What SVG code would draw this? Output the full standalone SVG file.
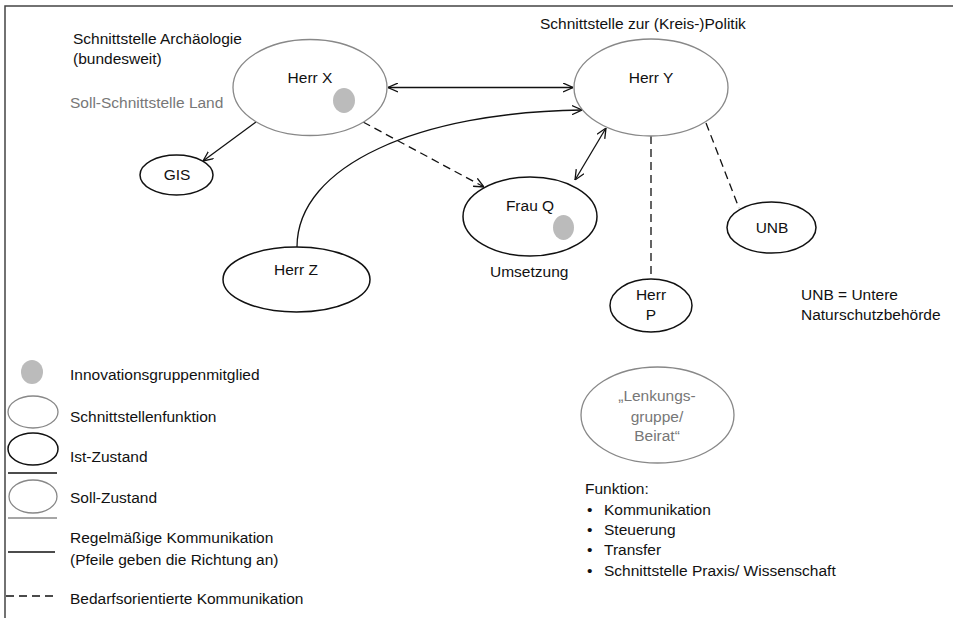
<svg xmlns="http://www.w3.org/2000/svg" width="953" height="618" viewBox="0 0 953 618">
<defs>
<style>
text{font-family:"Liberation Sans",Arial,sans-serif;font-size:15.5px;fill:#111}
.g{fill:#777}
.c{text-anchor:middle}
.soll{fill:#fff;stroke:#888;stroke-width:1.3}
.ist{fill:#fff;stroke:#111;stroke-width:1.5}
.dot{fill:#bbb;stroke:none}
.ln{fill:none;stroke:#111;stroke-width:1.3}
.dash{stroke-dasharray:8,5}
</style>
<marker id="ah" viewBox="0 0 10 10" refX="10" refY="5" markerWidth="10" markerHeight="10" markerUnits="userSpaceOnUse" orient="auto-start-reverse">
<path d="M0,0.5 L10,5 L0,9.5" fill="none" stroke="#111" stroke-width="1.3"/>
</marker>
</defs>
<rect x="0" y="0" width="953" height="618" fill="#fff"/>
<rect x="5" y="6" width="960" height="630" fill="none" stroke="#444" stroke-width="1.5"/>

<g id="connectors">
<line class="ln" x1="388" y1="87.5" x2="573" y2="87.5" marker-start="url(#ah)" marker-end="url(#ah)"/>
<line class="ln" x1="256" y1="122" x2="203" y2="161" marker-end="url(#ah)"/>
<line class="ln dash" x1="363" y1="122" x2="484" y2="187" marker-end="url(#ah)"/>
<path class="ln" d="M297,247 C297,165 420,112 582,110" marker-end="url(#ah)"/>
<line class="ln" x1="575" y1="180" x2="606" y2="128" marker-start="url(#ah)" marker-end="url(#ah)"/>
<line class="ln dash" x1="651" y1="136" x2="651" y2="279"/>
<line class="ln dash" x1="706" y1="123" x2="739" y2="208"/>
</g>

<g id="herr-x">
<ellipse class="soll" cx="310" cy="87.5" rx="77" ry="48"/>
<ellipse class="dot" cx="344" cy="100.5" rx="11" ry="12.5"/>
<text class="c" x="310" y="83">Herr X</text>
</g>
<g id="label-x">
<text x="73" y="44">Schnittstelle Archäologie</text>
<text x="73" y="64">(bundesweit)</text>
<text class="g" x="70" y="108">Soll-Schnittstelle Land</text>
</g>

<g id="herr-y">
<ellipse class="soll" cx="651" cy="87.5" rx="77" ry="48.5"/>
<text class="c" x="651" y="83">Herr Y</text>
</g>
<g id="label-y">
<text x="540" y="29">Schnittstelle zur (Kreis-)Politik</text>
</g>

<g id="gis">
<ellipse class="ist" cx="176.5" cy="175" rx="36.5" ry="20"/>
<text class="c" x="177" y="180">GIS</text>
</g>

<g id="herr-z">
<ellipse class="ist" cx="296.5" cy="279.5" rx="73.5" ry="32.5"/>
<text class="c" x="296" y="275">Herr Z</text>
</g>

<g id="frau-q">
<ellipse class="ist" cx="530" cy="216.5" rx="67" ry="39.5"/>
<ellipse class="dot" cx="563.5" cy="227.5" rx="10.5" ry="12.5"/>
<text class="c" x="530" y="211">Frau Q</text>
<text x="490" y="277">Umsetzung</text>
</g>

<g id="unb">
<ellipse class="ist" cx="771.5" cy="227.5" rx="44.5" ry="25.5"/>
<text class="c" x="772" y="233">UNB</text>
</g>

<g id="herr-p">
<ellipse class="ist" cx="651" cy="305.5" rx="41" ry="26.5"/>
<text class="c" x="651" y="300">Herr</text>
<text class="c" x="651" y="320">P</text>
</g>

<g id="unb-note">
<text x="801" y="300">UNB = Untere</text>
<text x="801" y="320">Naturschutzbehörde</text>
</g>

<g id="lenkungsgruppe">
<ellipse class="soll" cx="657.5" cy="415" rx="76.5" ry="48"/>
<text class="c g" x="657" y="401">„Lenkungs-</text>
<text class="c g" x="657" y="422">gruppe/</text>
<text class="c g" x="657" y="441">Beirat“</text>
</g>

<g id="funktion">
<text x="585" y="494">Funktion:</text>
<text x="587" y="515">•</text><text x="604" y="515">Kommunikation</text>
<text x="587" y="535">•</text><text x="604" y="535">Steuerung</text>
<text x="587" y="555">•</text><text x="604" y="555">Transfer</text>
<text x="587" y="576">•</text><text x="604" y="576">Schnittstelle Praxis/ Wissenschaft</text>
</g>

<g id="legend">
<ellipse class="dot" cx="32" cy="372" rx="11" ry="12"/>
<text x="70" y="380">Innovationsgruppenmitglied</text>
<ellipse class="soll" cx="33" cy="412" rx="25" ry="16"/>
<text x="70" y="422">Schnittstellenfunktion</text>
<ellipse class="ist" cx="33" cy="449" rx="25" ry="16"/>
<text x="70" y="462">Ist-Zustand</text>
<line x1="8" y1="473" x2="57" y2="473" stroke="#111" stroke-width="1.3"/>
<ellipse class="soll" cx="33" cy="496.5" rx="24" ry="16.5"/>
<text x="70" y="503">Soll-Zustand</text>
<line x1="8" y1="518" x2="57" y2="518" stroke="#888" stroke-width="1.3"/>
<line x1="8" y1="552" x2="55" y2="552" stroke="#111" stroke-width="1.3"/>
<text x="70" y="543">Regelmäßige Kommunikation</text>
<text x="70" y="565">(Pfeile geben die Richtung an)</text>
<line x1="6" y1="596" x2="55" y2="596" stroke="#111" stroke-width="1.3" stroke-dasharray="8,5"/>
<text x="70" y="604">Bedarfsorientierte Kommunikation</text>
</g>
</svg>
